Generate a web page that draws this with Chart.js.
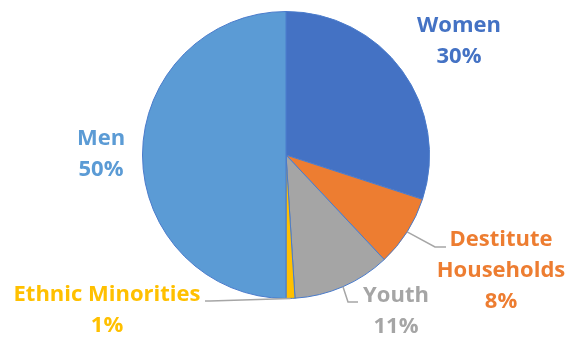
<!DOCTYPE html>
<html><head><meta charset="utf-8">
<script src="https://cdn.jsdelivr.net/npm/chart.js@4/dist/chart.umd.min.js"></script>
<style>html,body{margin:0;padding:0;background:#fff;}#wrap{width:568px;height:339px;}</style>
</head><body><div id="wrap"><canvas id="c" width="568" height="339"></canvas></div>
<script>
const categories = ["Women", "Destitute Households", "Youth", "Ethnic Minorities", "Men"];
const labelLines = [["Women"], ["Destitute", "Households"], ["Youth"], ["Ethnic Minorities"], ["Men"]];
const values = [30, 8, 11, 1, 50];
const colors = ["#4472C4", "#ED7D31", "#A5A5A5", "#FFC000", "#5B9BD5"];

// label layout: text anchor center (x, y of first line), optional leader elbow points
const labelLayout = [
  {x: 459, y: 26, lead: null},
  {x: 501, y: 240, lead: [[435, 247], [446, 247]]},
  {x: 396, y: 296, lead: [[348, 302], [358, 302]]},
  {x: 107, y: 295, lead: [[210, 301], [205, 301]]},
  {x: 101, y: 139, lead: null}
];
const lineGap = 31;
const FONT = "bold 22px 'Open Sans'";

const labelPlugin = {
  id: 'labels',
  afterDatasetsDraw(chart) {
    const ctx = chart.ctx;
    const meta = chart.getDatasetMeta(0);
    ctx.save();
    meta.data.forEach((arc, i) => {
      const L = labelLayout[i];
      if (L.lead) {
        const mid = (arc.startAngle + arc.endAngle) / 2;
        const sx = arc.x + Math.cos(mid) * arc.outerRadius;
        const sy = arc.y + Math.sin(mid) * arc.outerRadius;
        ctx.strokeStyle = '#A6A6A6';
        ctx.lineWidth = 1.5;
        ctx.beginPath();
        ctx.moveTo(sx, sy);
        L.lead.forEach(p => ctx.lineTo(p[0], p[1]));
        ctx.stroke();
      }
      ctx.fillStyle = colors[i];
      ctx.font = FONT;
      ctx.textAlign = 'center';
      ctx.textBaseline = 'middle';
      const lines = labelLines[i].concat([values[i] + '%']);
      lines.forEach((t, k) => ctx.fillText(t, L.x, L.y + k * lineGap));
    });
    ctx.restore();
  }
};

new Chart(document.getElementById('c'), {
  type: 'pie',
  data: {
    labels: categories,
    datasets: [{
      data: values,
      backgroundColor: colors,
      borderColor: '#4A7BCB',
      borderWidth: 1
    }]
  },
  options: {
    responsive: false,
    animation: false,
    layout: {padding: {left: 142, right: 138, top: 11, bottom: 40}},
    plugins: {legend: {display: false}, tooltip: {enabled: false}}
  },
  plugins: [labelPlugin]
});
</script>
</body></html>
